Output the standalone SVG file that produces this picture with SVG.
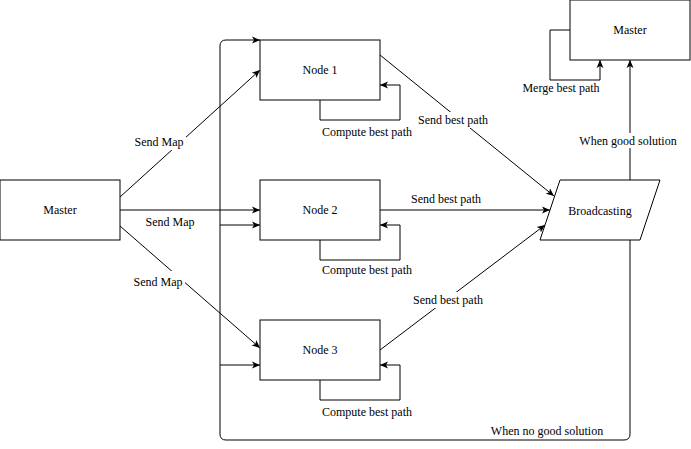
<svg xmlns="http://www.w3.org/2000/svg" width="691" height="449" viewBox="0 0 691 449">
<defs>
<marker id="arr" viewBox="-8 -4 8 8" markerWidth="8" markerHeight="8" refX="0" refY="0" orient="auto" markerUnits="userSpaceOnUse">
<path d="M-8,-3.5 L0,0 L-8,3.5 L-6,0 Z" fill="#000"/>
</marker>
</defs>
<style>
.box{fill:#fff;stroke:#000;stroke-width:1}
.ln{fill:none;stroke:#000;stroke-width:1}
.ar{fill:none;stroke:#000;stroke-width:1;marker-end:url(#arr)}
text{font-family:"Liberation Serif","Times New Roman",serif;font-size:12px;fill:#000;text-anchor:middle}
.bg{fill:#fff}
</style>
<rect width="691" height="449" fill="#fff"/>
<g id="connectors">
<path class="ar" d="M120,197 L260,70"/>
<path class="ar" d="M120,210 L260,210"/>
<path class="ar" d="M120,226 L260,348"/>
<path class="ar" d="M320,100 L320,120 L400,120 L400,85 L380,85"/>
<path class="ar" d="M320,240 L320,260 L400,260 L400,225 L380,225"/>
<path class="ar" d="M320,380 L320,400 L400,400 L400,365 L380,365"/>
<path class="ar" d="M380,55 L554,196"/>
<path class="ar" d="M380,210 L550,210"/>
<path class="ar" d="M380,350 L545,225"/>
<path class="ar" d="M630,180 L630,60"/>
<path class="ar" d="M570,30 L550,30 L550,80 L600,80 L600,60"/>
<path class="ar" d="M630,240 L630,434 Q630,440 624,440 L226,440 Q220,440 220,434 L220,46 Q220,40 226,40 L260,40"/>
<path class="ar" d="M220,225 L260,225"/>
<path class="ar" d="M220,365 L260,365"/>
<rect class="bg" x="133" y="134" width="53" height="16"/>
<text x="159" y="146">Send Map</text>
<text x="170" y="226">Send Map</text>
<rect class="bg" x="133" y="271" width="52" height="15"/>
<text x="158" y="286">Send Map</text>
<text x="367" y="136">Compute best path</text>
<text x="367" y="274">Compute best path</text>
<text x="367" y="416">Compute best path</text>
<rect class="bg" x="415" y="112" width="76" height="16"/>
<text x="453" y="124">Send best path</text>
<text x="446" y="203">Send best path</text>
<rect class="bg" x="411" y="292" width="74" height="16"/>
<text x="448" y="304">Send best path</text>
<rect class="bg" x="578" y="133" width="100" height="15"/>
<text x="628" y="145">When good solution</text>
<text x="561" y="92">Merge best path</text>
<text x="547" y="435">When no good solution</text>
</g>
<g id="master"><rect class="box" x="0" y="180" width="120" height="60"/><text x="60" y="214">Master</text></g>
<g id="node1"><rect class="box" x="260" y="40" width="120" height="60"/><text x="320" y="74">Node 1</text></g>
<g id="node2"><rect class="box" x="260" y="180" width="120" height="60"/><text x="320" y="214">Node 2</text></g>
<g id="node3"><rect class="box" x="260" y="320" width="120" height="60"/><text x="320" y="354">Node 3</text></g>
<g id="broadcasting"><path class="box" d="M560,180 L660,180 L640,240 L540,240 Z"/><text x="600" y="215">Broadcasting</text></g>
<g id="master2"><rect class="box" x="570" y="0" width="120" height="60"/><text x="630" y="34">Master</text></g>
</svg>
